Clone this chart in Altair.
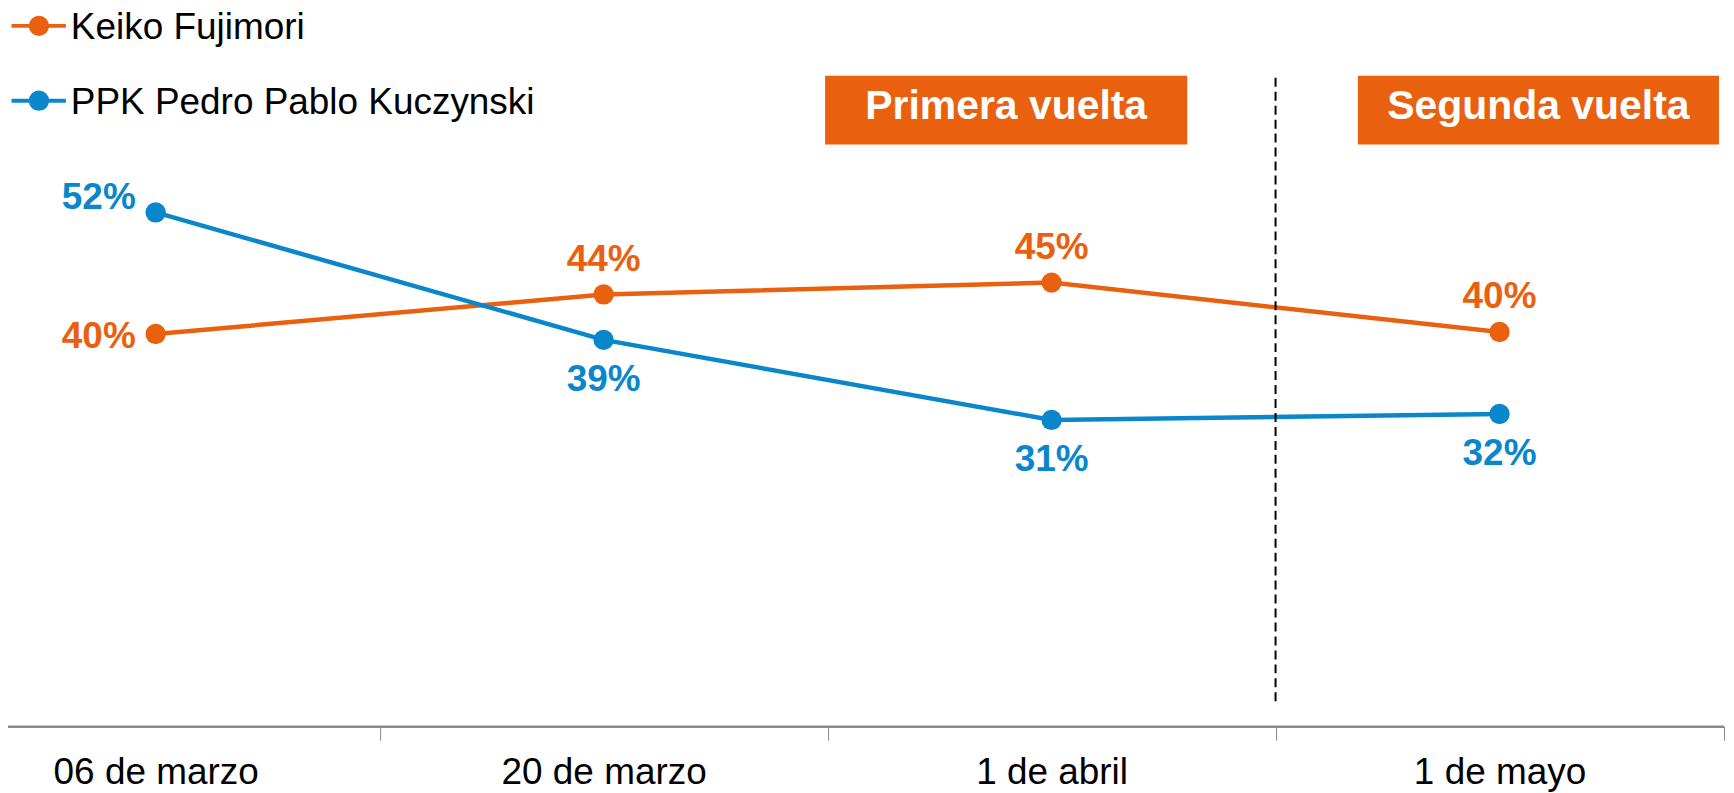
import altair as alt
import pandas as pd

# ---- data ----
dates = ["06 de marzo", "20 de marzo", "1 de abril", "1 de mayo"]
series_names = ["Keiko Fujimori", "PPK Pedro Pablo Kuczynski"]
keiko = [39.7, 43.7, 44.9, 39.9]
ppk = [52.0, 39.1, 31.0, 31.6]
round_labels = ["Primera vuelta", "Segunda vuelta"]
colors = ["#E9600F", "#0A87CA"]

rows = []
for name, vals in zip(series_names, [keiko, ppk]):
    for i, (d, v) in enumerate(zip(dates, vals)):
        rows.append({"fecha": d, "serie": name, "valor": v, "orden": i})
df = pd.DataFrame(rows)

FONT = "Liberation Sans"
GRAY = "#8a8a8a"

x_scale = alt.Scale(domain=dates, range=[-76.5, 1719.5], paddingInner=0, paddingOuter=0)
x_axis = alt.Axis(title=None, labelAngle=0, tickBand="extent", domainColor=GRAY,
                  domainWidth=2.5, tickColor=GRAY, tickWidth=1, tickSize=14,
                  labelFontSize=37, labelFont=FONT, labelColor="black",
                  labelPadding=14, labelLimit=0, grid=False)
x_enc = alt.X("fecha:N", sort=dates, scale=x_scale, axis=x_axis)
y_enc = alt.Y("valor:Q", scale=alt.Scale(domain=[0, 72.6]), axis=None)
color_enc = alt.Color("serie:N", scale=alt.Scale(domain=series_names, range=colors), legend=None)

base = alt.Chart(df).encode(x=x_enc, y=y_enc, color=color_enc)

lines = base.mark_line(strokeWidth=4.5)
points = base.mark_circle(size=415, opacity=1)

labeled = base.transform_calculate(etiqueta="round(datum.valor) + '%'")
txt = dict(fontSize=37, fontWeight="bold", font=FONT, baseline="middle")
k0, k1 = series_names

lab_first_k = labeled.transform_filter((alt.datum.orden == 0) & (alt.datum.serie == k0)).mark_text(
    align="right", dx=-20, dy=3, **txt).encode(text="etiqueta:N")
lab_first_p = labeled.transform_filter((alt.datum.orden == 0) & (alt.datum.serie == k1)).mark_text(
    align="right", dx=-20, dy=-14, **txt).encode(text="etiqueta:N")
lab_above = labeled.transform_filter((alt.datum.orden > 0) & (alt.datum.serie == k0)).mark_text(
    align="center", dy=-35, **txt).encode(text="etiqueta:N")
lab_below = labeled.transform_filter((alt.datum.orden > 0) & (alt.datum.serie == k1)).mark_text(
    align="center", dy=40, **txt).encode(text="etiqueta:N")

# dashed separator between rounds (at the left edge of the last band)
sep = alt.Chart(pd.DataFrame({"fecha": [dates[-1]]})).mark_rule(
    strokeDash=[9, 5], strokeWidth=2, color="black").encode(
    x=alt.X("fecha:N", sort=dates, scale=x_scale, axis=x_axis, bandPosition=0),
    y=alt.value(69), y2=alt.value(696))

# round boxes
box_layers = []
box_pos = [(819, 1182), (1353, 1715)]
for lab, (bx0, bx1) in zip(round_labels, box_pos):
    bdf = pd.DataFrame({"t": [lab]})
    box_layers.append(alt.Chart(bdf).mark_rect(color=colors[0]).encode(
        x=alt.value(bx0), x2=alt.value(bx1), y=alt.value(67), y2=alt.value(136)))
    box_layers.append(alt.Chart(bdf).mark_text(
        color="white", fontSize=41, fontWeight="bold", font=FONT, align="center",
        baseline="alphabetic").encode(x=alt.value((bx0 + bx1) / 2), y=alt.value(110), text="t:N"))

# legend
leg_layers = []
for i, name in enumerate(series_names):
    ldf = pd.DataFrame({"serie": [name]})
    lc = alt.Chart(ldf).encode(color=color_enc)
    leg_layers.append(lc.mark_rule(strokeWidth=4).encode(
        x=alt.value(3.5), x2=alt.value(58), y=alt.value(17 + 75 * i)))
    leg_layers.append(lc.mark_circle(size=415, opacity=1).encode(
        x=alt.value(31), y=alt.value(17 + 75 * i)))
    leg_layers.append(alt.Chart(ldf).mark_text(
        align="left", baseline="alphabetic", fontSize=37, font=FONT, color="black").encode(
        x=alt.value(63), y=alt.value(30 + 75 * i), text="serie:N"))

chart = alt.layer(
    lines, sep, points, lab_first_k, lab_first_p, lab_above, lab_below,
    *box_layers, *leg_layers
).properties(
    width=1722, height=719,
    padding={"left": 0, "top": 0, "right": 0, "bottom": 66},
    autosize=alt.AutoSizeParams(type="none"),
    background="white",
).configure_view(stroke=None, strokeWidth=0)

chart.save("out.html", embed_options={"renderer": "svg", "actions": False})
